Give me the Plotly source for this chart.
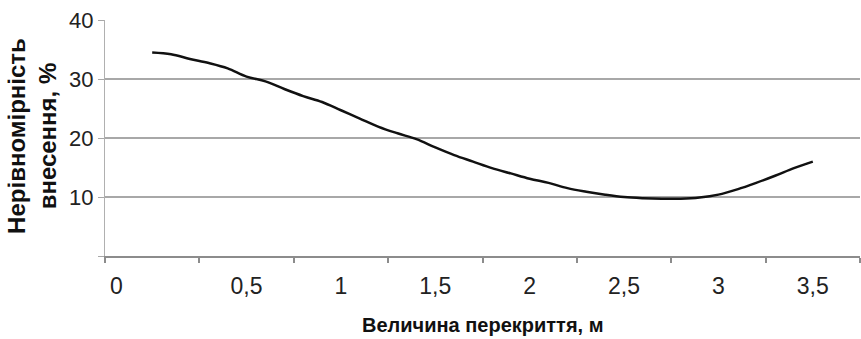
import plotly.graph_objects as go

# Data
overlap_m = [0.0, 0.1, 0.2, 0.3, 0.4, 0.5, 0.6, 0.7, 0.8, 0.9,
             1.0, 1.1, 1.2, 1.3, 1.4, 1.5, 1.6, 1.7, 1.8, 1.9,
             2.0, 2.1, 2.2, 2.3, 2.4, 2.5, 2.6, 2.7, 2.8, 2.9,
             3.0, 3.1, 3.2, 3.3, 3.4, 3.5]
unevenness_pct = [34.5, 34.2, 33.4, 32.7, 31.8, 30.4, 29.6, 28.3, 27.1, 26.1,
                  24.7, 23.3, 21.9, 20.8, 19.8, 18.4, 17.1, 16.0, 14.9, 14.0,
                  13.1, 12.4, 11.5, 10.9, 10.4, 10.0, 9.8, 9.7, 9.7, 9.9,
                  10.4, 11.3, 12.4, 13.6, 14.9, 16.0]

x_tick_vals = [-0.19, 0.5, 1.0, 1.5, 2.0, 2.5, 3.0, 3.5]
x_tick_text = ["0", "0,5", "1", "1,5", "2", "2,5", "3", "3,5"]
x_mark_vals = [-0.25, 0.25, 0.75, 1.25, 1.75, 2.25, 2.75, 3.25, 3.75]
y_tick_vals = [0, 10, 20, 30, 40]
y_tick_text = ["", "10", "20", "30", "40"]

FONT = "Arial, Liberation Sans, sans-serif"

fig = go.Figure()
fig.add_trace(go.Scatter(
    x=overlap_m, y=unevenness_pct, mode="lines",
    line=dict(color="#111111", width=2.5, shape="spline"),
    showlegend=False, hoverinfo="skip"))

fig.update_layout(
    width=861, height=339,
    margin=dict(l=105, r=1, t=20, b=83),
    paper_bgcolor="white", plot_bgcolor="white",
    font=dict(family=FONT, size=22, color="#222222"),
    xaxis=dict(
        range=[-0.25, 3.75], showgrid=False, zeroline=False, automargin=False,
        showline=True, linecolor="#8c8c8c", linewidth=1.5,
        tickmode="array", tickvals=x_tick_vals, ticktext=x_tick_text,
        ticks="", ticklabelstandoff=9,
        tickfont=dict(family=FONT, size=23, color="#222222"),
        minor=dict(tickmode="array", tickvals=x_mark_vals, ticks="outside",
                   ticklen=5, tickcolor="#8c8c8c", tickwidth=1.5, showgrid=False),
    ),
    yaxis=dict(
        range=[0, 40], showgrid=True, gridcolor="#a8a8a8", gridwidth=1.5,
        zeroline=False, automargin=False,
        showline=True, linecolor="#b0b0b0", linewidth=1.2,
        tickmode="array", tickvals=y_tick_vals, ticktext=y_tick_text,
        ticks="outside", ticklen=6, tickcolor="#a8a8a8", tickwidth=1.2,
        tickfont=dict(family=FONT, size=22, color="#222222"),
    ),
    annotations=[
        dict(text="<b>Нерівномірність<br>внесення, %</b>", textangle=-90,
             xref="paper", yref="paper", x=-0.097, y=0.508,
             xanchor="center", yanchor="middle", showarrow=False,
             font=dict(family=FONT, size=24, color="#111111")),
        dict(text="<b>Величина перекриття, м</b>",
             xref="paper", yref="paper", x=0.5, y=-0.293,
             xanchor="center", yanchor="middle", showarrow=False,
             font=dict(family=FONT, size=20, color="#111111")),
    ],
)

fig.write_html(
    "out.html",
    config={"displayModeBar": False},
    post_script="document.body.style.margin='0';document.body.style.overflow='hidden';",
)
